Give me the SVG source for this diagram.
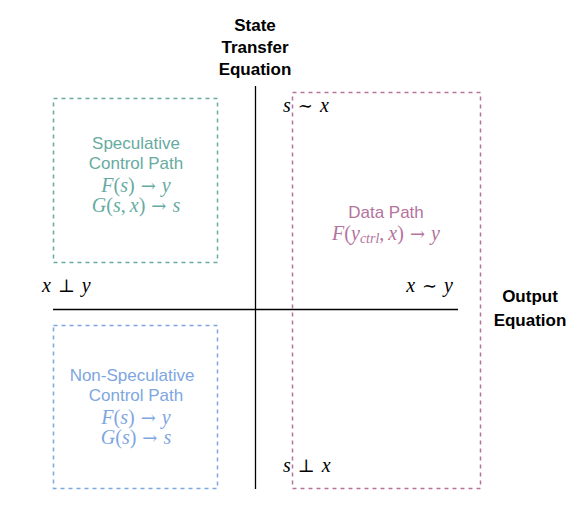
<svg xmlns="http://www.w3.org/2000/svg" width="585" height="507" viewBox="0 0 585 507">
<style>
.box{fill:none;stroke-width:1.5;stroke-dasharray:4 4}
.lbl{font-family:"Liberation Sans",Arial,sans-serif;font-size:17px;text-anchor:middle}
.bold{font-family:"Liberation Sans",Arial,sans-serif;font-size:17px;font-weight:bold;text-anchor:middle;fill:#000}
.m{font-family:"Liberation Serif","Times New Roman",serif;font-size:20px}
.i{font-style:italic}
.a{font-family:"DejaVu Serif",serif;font-size:18px}
.g{fill:#67AB9F}.p{fill:#B5739D}.b{fill:#7EA6E0}
</style>
<rect width="585" height="507" fill="#fff"/>
<g id="connectors" stroke="#000" stroke-width="1.3">
<line x1="255.5" y1="86" x2="255.5" y2="489"/>
<line x1="53" y1="309.5" x2="458" y2="309.5"/>
</g>
<g id="spec">
<rect class="box" x="53.5" y="98.5" width="164" height="164" stroke="#67AB9F"/>
<text class="lbl g" x="136" y="149">Speculative</text>
<text class="lbl g" x="136" y="169">Control Path</text>
<text class="m g" x="136" y="192" text-anchor="middle"><tspan class="i">F</tspan>(<tspan class="i">s</tspan>)<tspan class="a" dx="6">→</tspan><tspan class="i" dx="6">y</tspan></text>
<text class="m g" x="136" y="212" text-anchor="middle"><tspan class="i">G</tspan>(<tspan class="i">s</tspan>,<tspan class="i" dx="4">x</tspan>)<tspan class="a" dx="6">→</tspan><tspan class="i" dx="6">s</tspan></text>
</g>
<g id="data">
<rect class="box" x="292.5" y="92.5" width="188" height="396" stroke="#B5739D"/>
<text class="lbl p" x="386" y="218">Data Path</text>
<text class="m p" x="386" y="240" text-anchor="middle"><tspan class="i">F</tspan>(<tspan class="i">y</tspan><tspan class="i" font-size="14" dy="3">ctrl</tspan><tspan dy="-3">,</tspan><tspan class="i" dx="4">x</tspan>)<tspan class="a" dx="6">→</tspan><tspan class="i" dx="6">y</tspan></text>
</g>
<g id="nonspec">
<rect class="box" x="53.5" y="325.5" width="164" height="163" stroke="#7EA6E0"/>
<text class="lbl b" x="132" y="381">Non-Speculative</text>
<text class="lbl b" x="136" y="401">Control Path</text>
<text class="m b" x="136" y="424" text-anchor="middle"><tspan class="i">F</tspan>(<tspan class="i">s</tspan>)<tspan class="a" dx="6">→</tspan><tspan class="i" dx="6">y</tspan></text>
<text class="m b" x="136" y="444" text-anchor="middle"><tspan class="i">G</tspan>(<tspan class="i">s</tspan>)<tspan class="a" dx="6">→</tspan><tspan class="i" dx="6">s</tspan></text>
</g>
<g id="state-label">
<text class="bold" x="255" y="31">State</text>
<text class="bold" x="255" y="53">Transfer</text>
<text class="bold" x="255" y="75">Equation</text>
</g>
<g id="output-label">
<text class="bold" x="530" y="302">Output</text>
<text class="bold" x="530" y="326">Equation</text>
</g>
<g id="math-labels" fill="#000">
<text class="m" x="283" y="112"><tspan class="i">s</tspan><tspan class="a" dx="7">∼</tspan><tspan class="i" dx="7">x</tspan></text>
<text class="m" x="42" y="292"><tspan class="i">x</tspan><tspan class="a" dx="7">⊥</tspan><tspan class="i" dx="7">y</tspan></text>
<text class="m" x="453" y="292" text-anchor="end"><tspan class="i">x</tspan><tspan class="a" dx="7">∼</tspan><tspan class="i" dx="7">y</tspan></text>
<text class="m" x="283" y="472"><tspan class="i">s</tspan><tspan class="a" dx="7">⊥</tspan><tspan class="i" dx="7">x</tspan></text>
</g>
</svg>
